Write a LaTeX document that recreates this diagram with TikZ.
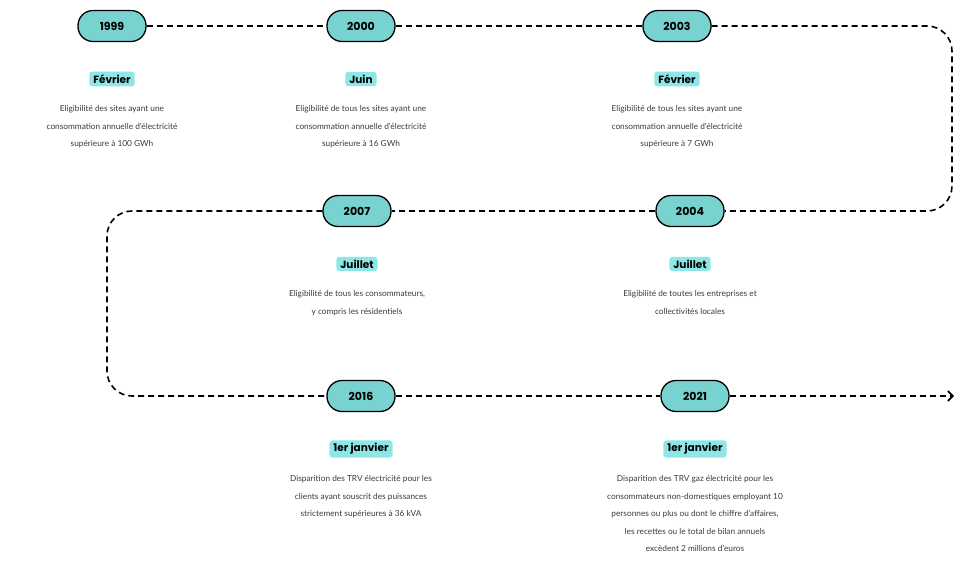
\documentclass[tikz,border=0pt]{standalone}
\usepackage{fontspec}
\setmainfont{Lato}
\newfontfamily\pillfont{Poppins}
\usetikzlibrary{positioning, arrows.meta}
\definecolor{pill}{HTML}{78D2CF}
\definecolor{month}{HTML}{8FE6E6}
\definecolor{desc}{HTML}{3A3A3A}

\begin{document}
\begin{tikzpicture}
		[x=1pt, y=-1pt,
		year/.style = {draw=black, line width=1.3pt, fill=pill, rounded corners=15pt, minimum width=68pt, minimum height=31pt, font=\pillfont\bfseries\fontsize{11}{13}\selectfont},
		mon/.style = {fill=month, rounded corners=3pt, inner xsep=4pt, inner ysep=3pt, font=\pillfont\bfseries\fontsize{10.5}{12}\selectfont},
		txt/.style = {align=center, text=desc, font=\fontsize{8.3}{17.5}\selectfont},
		path/.style = {line width=1.6pt, dash pattern=on 6pt off 4pt}]
		
		\useasboundingbox (0,0) rectangle (975,567);
		\foreach \x/\y/\alph/\name/\m/\t in {
			112/26/a/1999/Février/{Eligibilité des sites ayant une\\consommation annuelle d’électricité\\supérieure à 100 GWh},
			361/26/b/2000/Juin/{Eligibilité de tous les sites ayant une\\consommation annuelle d’électricité\\supérieure à 16 GWh},
			677/26/c/2003/Février/{Eligibilité de tous les sites ayant une\\consommation annuelle d’électricité\\supérieure à 7 GWh},
			690/211/d/2004/Juillet/{Eligibilité de toutes les entreprises et\\collectivités locales},
			357/211/e/2007/Juillet/{Eligibilité de tous les consommateurs,\\y compris les résidentiels},
			361/396/f/2016/1er janvier/{Disparition des TRV électricité pour les\\clients ayant souscrit des puissances\\strictement supérieures à 36 kVA},
			695/396/g/2021/1er janvier/{Disparition des TRV gaz électricité pour les\\consommateurs non-domestiques employant 10\\personnes ou plus ou dont le chiffre d’affaires,\\les recettes ou le total de bilan annuels\\excèdent 2 millions d’euros}}
		{
			\node[year] (\alph) at (\x,\y) {\name};
			\node[mon] (\alph m) at (\x,\y+53) {\m};
			\node[txt, anchor=north] (\alph t) at (\x,\y+76) {\t};
		}
		\coordinate (tr) at (952,26);
		\coordinate (mr) at (952,211);
		\coordinate (ml) at (107,211);
		\coordinate (bl) at (107,396);
		\coordinate (end) at (954,396);
		
		\draw[path] (a) -- (b);
		\draw[path] (b) -- (c);
		\draw[path, rounded corners=25pt] (c) -- (tr) -- (mr) -- (d);
		\draw[path] (d) -- (e);
		\draw[path, rounded corners=25pt] (e) -- (ml) -- (bl) -- (f);
		\draw[path] (f) -- (g);
		\draw[path, -{Straight Barb[length=5pt, width=10pt]}] (g) -- (end);
		
	\end{tikzpicture}
\end{document}
